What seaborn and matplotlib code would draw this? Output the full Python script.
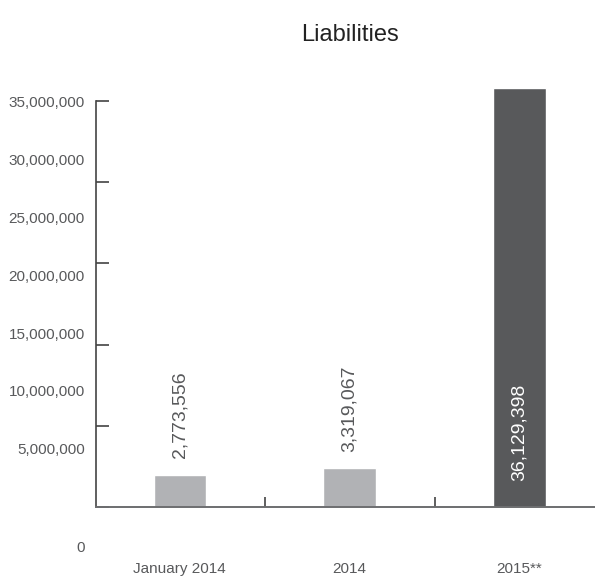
import numpy as np
import matplotlib
matplotlib.use('Agg')
import matplotlib.pyplot as plt
import matplotlib.transforms as mtransforms
from matplotlib.ticker import FixedLocator, FuncFormatter
import seaborn as sns

# data
categories = ['January 2014', '2014', '2015**']
values = [2773556, 3319067, 36129398]
bar_colors = ['#b1b2b5', '#b1b2b5', '#58595b']
label_colors = ['#58595b', '#58595b', 'white']
label_inside = [False, False, True]
ytick_labels = [0, 5000000, 10000000, 15000000, 20000000, 25000000, 30000000, 35000000]
ytick_marks = [0, 7000000, 14000000, 21000000, 28000000, 35000000]

sns.set_style('white')
plt.rcParams['font.family'] = ['Liberation Sans', 'DejaVu Sans']
text_col = '#58595b'

fig = plt.figure(figsize=(5.95, 5.78), dpi=100)
ax = fig.add_axes([0.161, 0.123, 0.839, 0.742])

sns.barplot(x=categories, y=values, hue=categories, palette=bar_colors,
            width=0.31, legend=False, ax=ax, saturation=1)

ax.set_xlim(-0.495, 2.445)
ax.set_ylim(0, 37000000)

for s in ['top', 'right']:
    ax.spines[s].set_visible(False)
ax.spines['left'].set_color('#444444')
ax.spines['bottom'].set_color('#6d6e70')
ax.spines['left'].set_linewidth(1.2)
ax.spines['bottom'].set_linewidth(1.4)
ax.spines['left'].set_bounds(0, ytick_marks[-1])

# y axis: labels every 5M, tick marks every 7M
ax.yaxis.remove_overlapping_locs = False
ax.yaxis.set_major_locator(FixedLocator(ytick_labels))
ax.yaxis.set_major_formatter(FuncFormatter(lambda v, p: f'{int(v):,}'))
ax.yaxis.set_minor_locator(FixedLocator(ytick_marks))
ax.tick_params(axis='y', which='major', length=0, pad=8, labelsize=11, labelcolor=text_col)
ax.tick_params(axis='y', which='minor', direction='in', length=9, width=1.1, color='#333333', left=True)

# x axis: separators between categories
ax.xaxis.set_minor_locator(FixedLocator([0.5, 1.5]))
ax.tick_params(axis='x', which='major', length=0, pad=40, labelsize=11, labelcolor=text_col)
ax.tick_params(axis='x', which='minor', direction='in', length=7, width=1.1, color='#333333', bottom=True)

# "0" label sits below the baseline
zero_tick = ax.yaxis.get_major_ticks()[0]
zero_tick.label1.set_transform(zero_tick.label1.get_transform() +
                               mtransforms.ScaledTranslation(0, -0.40, fig.dpi_scale_trans))

ax.set_xlabel('')
ax.set_ylabel('')
ax.set_title('Liabilities', fontsize=17, color='#222222', pad=27, x=0.51)

for i, v in enumerate(values):
    if label_inside[i]:
        ax.annotate(f'{v:,}', xy=(i, 0), xytext=(0, 19), textcoords='offset points',
                    rotation=90, ha='center', va='bottom', fontsize=14, color=label_colors[i])
    else:
        ax.annotate(f'{v:,}', xy=(i, v), xytext=(0, 12), textcoords='offset points',
                    rotation=90, ha='center', va='bottom', fontsize=14, color=label_colors[i])

fig.savefig('out.png', dpi=100)
